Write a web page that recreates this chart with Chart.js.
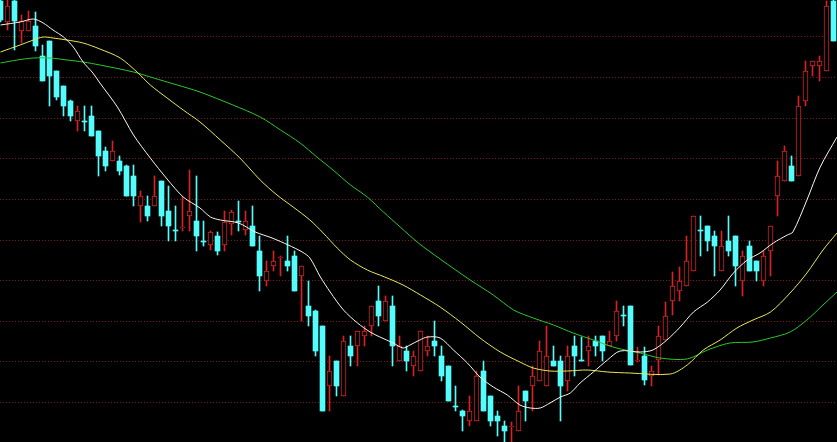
<!DOCTYPE html>
<html>
<head>
<meta charset="utf-8">
<script src="https://cdn.jsdelivr.net/npm/chart.js@4"></script>
<style>
  html, body { margin: 0; padding: 0; background: #000; overflow: hidden; }
  canvas { display: block; }
</style>
</head>
<body>
<canvas class="js-chart" width="837" height="442"></canvas>
<script>
const opens = [
  12.41, 12.20, 12.41, 12.11, 12.11, 12.16, 11.86, 12.01, 11.71, 11.56,
  11.41, 11.21, 11.21, 11.26, 11.11, 10.91, 10.81, 10.81, 10.76, 10.66,
  10.36, 10.36, 10.36, 10.61, 10.31, 10.12, 10.14, 10.26, 10.21, 10.01,
  9.97, 10.06, 9.97, 10.18, 10.21, 10.12, 10.16, 9.91, 9.61, 9.76,
  9.84, 9.81, 9.86, 9.66, 9.36, 9.31, 9.16, 8.56, 8.81, 8.46,
  8.96, 8.96, 9.06, 9.16, 9.41, 9.21, 9.36, 8.81, 8.91, 8.76,
  8.71, 8.91, 9.01, 8.86, 8.76, 8.36, 8.31, 8.21, 8.21, 8.71,
  8.46, 8.26, 8.16, 8.15, 8.11, 8.51, 8.56, 8.61, 8.56, 8.81,
  8.81, 8.61, 8.96, 8.82, 8.91, 9.01, 9.06, 8.96, 9.06, 9.27,
  9.36, 8.81, 8.86, 8.66, 8.82, 9.02, 9.41, 9.51, 9.56, 9.71,
  10.12, 10.16, 10.06, 9.71, 10.01, 10.06, 9.61, 9.96, 9.81, 9.61,
  9.91, 10.46, 10.61, 10.76, 10.66, 11.41, 11.76, 11.76, 11.71, 12.41
];
const highs = [
  12.42, 12.42, 12.42, 12.27, 12.31, 12.30, 11.97, 12.01, 11.71, 11.56,
  11.42, 11.36, 11.36, 11.36, 11.11, 10.95, 11.01, 10.86, 10.77, 10.77,
  10.51, 10.46, 10.66, 10.61, 10.56, 10.36, 10.45, 10.72, 10.66, 10.21,
  10.11, 10.10, 10.31, 10.32, 10.41, 10.31, 10.36, 10.06, 9.81, 9.91,
  9.86, 10.06, 9.91, 9.76, 9.61, 9.32, 9.16, 8.86, 8.81, 9.06,
  9.06, 9.11, 9.16, 9.36, 9.56, 9.46, 9.46, 9.06, 8.96, 8.91,
  9.11, 9.06, 9.21, 8.96, 8.76, 8.56, 8.32, 8.46, 8.71, 8.81,
  8.46, 8.31, 8.21, 8.20, 8.56, 8.51, 8.76, 9.01, 9.16, 8.96,
  8.86, 8.96, 9.06, 9.05, 9.06, 9.06, 9.06, 9.11, 9.41, 9.36,
  9.36, 8.95, 8.95, 8.76, 9.16, 9.40, 9.70, 9.75, 10.06, 10.26,
  10.26, 10.16, 10.11, 10.11, 10.26, 10.06, 9.91, 10.01, 9.81, 9.91,
  10.16, 10.81, 10.96, 10.86, 11.46, 11.81, 11.81, 11.86, 12.41, 12.42
];
const lows = [
  12.20, 12.12, 11.92, 11.99, 12.11, 11.91, 11.61, 11.36, 11.42, 11.26,
  11.21, 11.11, 11.11, 11.06, 10.66, 10.71, 10.81, 10.67, 10.46, 10.36,
  10.20, 10.21, 10.36, 10.16, 10.01, 10.01, 10.11, 10.11, 9.91, 9.96,
  9.92, 9.87, 9.91, 10.07, 10.11, 10.07, 9.96, 9.51, 9.56, 9.71,
  9.66, 9.71, 9.51, 9.21, 9.16, 8.86, 8.31, 8.31, 8.46, 8.46,
  8.76, 8.76, 8.96, 9.06, 9.16, 9.21, 8.76, 8.81, 8.71, 8.66,
  8.71, 8.86, 8.86, 8.61, 8.41, 8.31, 8.11, 8.16, 8.21, 8.31,
  8.16, 8.06, 8.00, 8.00, 8.11, 8.21, 8.31, 8.61, 8.56, 8.76,
  8.21, 8.51, 8.66, 8.81, 8.76, 8.86, 8.81, 8.96, 9.01, 9.16,
  8.77, 8.80, 8.57, 8.56, 8.67, 9.02, 9.27, 9.41, 9.56, 9.71,
  9.86, 9.91, 9.66, 9.71, 9.86, 9.56, 9.46, 9.71, 9.61, 9.56,
  9.66, 10.26, 10.61, 10.61, 10.66, 11.36, 11.66, 11.61, 11.71, 12.01
];
const closes = [
  12.22, 12.36, 12.21, 12.21, 12.21, 11.96, 11.61, 11.66, 11.45, 11.36,
  11.26, 11.31, 11.20, 11.06, 10.86, 10.76, 10.91, 10.71, 10.46, 10.46,
  10.46, 10.26, 10.46, 10.26, 10.16, 10.11, 10.15, 10.31, 10.06, 10.00,
  10.10, 9.91, 10.20, 10.30, 10.20, 10.21, 9.96, 9.66, 9.71, 9.81,
  9.85, 9.76, 9.51, 9.76, 9.26, 8.91, 8.31, 8.71, 8.56, 9.01,
  8.86, 9.11, 9.11, 9.36, 9.26, 9.41, 8.96, 8.96, 8.81, 8.86,
  9.11, 8.96, 8.96, 8.66, 8.41, 8.35, 8.26, 8.31, 8.66, 8.31,
  8.21, 8.21, 8.11, 8.16, 8.31, 8.41, 8.66, 8.91, 8.86, 8.76,
  8.56, 8.86, 8.86, 8.81, 8.96, 8.96, 8.91, 9.01, 9.31, 9.26,
  8.77, 8.82, 8.62, 8.71, 9.06, 9.26, 9.56, 9.61, 9.81, 10.26,
  10.11, 10.01, 9.96, 9.96, 9.91, 9.76, 9.86, 9.71, 9.71, 9.86,
  10.16, 10.66, 10.91, 10.61, 11.36, 11.71, 11.81, 11.81, 12.36, 12.01
];

// moving averages: [bar index, price]
const maShort = [
  [0, 12.17], [2.8, 12.20], [4.7, 12.23], [6.1, 12.19], [7.5, 12.12], [9, 12.05],
  [10.4, 11.95], [11.8, 11.80], [13.2, 11.69], [14.2, 11.59], [16.7, 11.35], [19, 11.07],
  [21.4, 10.84], [23.8, 10.63], [26.1, 10.45], [28.5, 10.34], [30, 10.25], [31.4, 10.22],
  [34, 10.19], [36.4, 10.10], [38.8, 10.04], [41.1, 9.97], [43.1, 9.90], [44.2, 9.84],
  [45.7, 9.65], [47.1, 9.50], [49, 9.32], [51, 9.19], [52.8, 9.10], [54.2, 9.05],
  [56.1, 8.99], [57.5, 8.94], [58.5, 8.97], [59.9, 9.02], [61, 9.05], [62.8, 9.04],
  [64.7, 8.92], [66.7, 8.79], [68.5, 8.65], [70.4, 8.55], [72.4, 8.47], [74.2, 8.37],
  [75.7, 8.34], [77.1, 8.34], [78.5, 8.39], [80, 8.45], [81.4, 8.49], [82.8, 8.59],
  [84.7, 8.70], [86.7, 8.82], [88.5, 8.91], [91.4, 8.90], [93.2, 8.92], [95.2, 9.02],
  [97.1, 9.15], [99, 9.30], [101, 9.40], [102.8, 9.52], [104.7, 9.69], [106.7, 9.82],
  [108.5, 9.89], [110.4, 9.99], [112.4, 10.07], [113.2, 10.10], [115.2, 10.42],
  [117.1, 10.75], [119.5, 11.05]
];
const maMid = [
  [0, 11.90], [2.8, 11.97], [4.7, 12.02], [6.1, 12.05], [7.5, 12.04], [9.5, 12.02],
  [11.8, 11.99], [14.2, 11.93], [17.1, 11.84], [19.5, 11.70], [21.4, 11.57], [23.8, 11.44],
  [26.1, 11.32], [28.5, 11.20], [31.4, 11.02], [34.2, 10.84], [37.1, 10.62], [39.5, 10.47],
  [41.8, 10.35], [44.2, 10.22], [46.1, 10.09], [48.1, 9.94], [50, 9.82], [52.4, 9.72],
  [54.9, 9.65], [57.5, 9.57], [60, 9.47], [62.8, 9.35], [65.7, 9.20], [68.5, 9.04],
  [71.4, 8.90], [74.2, 8.80], [76.1, 8.74], [78.5, 8.71], [81, 8.71], [83.8, 8.72],
  [86.7, 8.70], [89.9, 8.69], [95.7, 8.68], [98.1, 8.77], [100.4, 8.92], [102.8, 9.02],
  [105.2, 9.14], [107.5, 9.22], [110, 9.30], [112.8, 9.49], [115.2, 9.69], [117.5, 9.92],
  [119.5, 10.09]
];
const maLong = [
  [0, 11.79], [2.4, 11.82], [4.7, 11.84], [7.1, 11.84], [9.5, 11.82], [11.8, 11.80],
  [14.2, 11.77], [19, 11.70], [21.4, 11.65], [23.8, 11.60], [26.7, 11.54], [28.5, 11.50],
  [33.2, 11.37], [37.1, 11.25], [40, 11.12], [42.8, 10.99], [45.2, 10.85], [47.5, 10.72],
  [50, 10.57], [52.4, 10.45], [54.7, 10.30], [57.1, 10.15], [59.7, 9.99], [62.8, 9.83],
  [67.1, 9.62], [70.4, 9.47], [73.3, 9.32], [76.1, 9.24], [79, 9.17], [81.8, 9.09],
  [84.7, 9.02], [87.5, 8.95], [89.9, 8.91], [91.4, 8.89], [94.2, 8.84], [98.1, 8.83],
  [101, 8.92], [104.2, 8.99], [107.5, 9.00], [110, 9.04], [112.8, 9.10], [115.2, 9.22],
  [117.5, 9.37], [119.5, 9.50]
];

// price levels of the dotted grid
const gridPrices = [12.05, 11.644, 11.238, 10.832, 10.426, 10.02, 9.614, 9.208, 8.802, 8.396];

const UP_COLOR = '#d82222';
const DOWN_COLOR = '#54fcfc';

const ctx = document.querySelector('.js-chart').getContext('2d');

function isUp(i) {
  return closes[i] >= opens[i];
}

function candleColor(c) {
  return isUp(c.dataIndex) ? UP_COLOR : DOWN_COLOR;
}

function maLine(points, color) {
  return {
    type: 'line',
    data: points.map(([x, y]) => ({ x, y })),
    borderColor: color,
    borderWidth: 1,
    pointRadius: 0,
    tension: 0.3,
    fill: false,
  };
}

new Chart(ctx, {
  type: 'bar',
  data: {
    datasets: [
      maLine(maShort, '#f8f8ec'),
      maLine(maMid, '#e8e85a'),
      maLine(maLong, '#2cc82c'),
      {
        data: opens.map((o, i) => ({ x: i, y: [o, closes[i]] })),
        barThickness: 5,
        grouped: false,
        borderSkipped: false,
        borderWidth: c => isUp(c.dataIndex) ? 1 : 0,
        borderColor: candleColor,
        backgroundColor: c => isUp(c.dataIndex) ? '#000' : DOWN_COLOR,
      },
      {
        data: lows.map((l, i) => ({ x: i, y: [l, highs[i]] })),
        barThickness: 1,
        grouped: false,
        borderWidth: 0,
        backgroundColor: candleColor,
      },
    ]
  },
  options: {
    responsive: false,
    animation: false,
    layout: { padding: 0 },
    plugins: {
      legend: { display: false },
      tooltip: { enabled: false },
    },
    scales: {
      x: {
        type: 'linear',
        display: false,
        offset: false,
        min: -0.5 / 7,
        max: 119.5,
      },
      y: {
        min: 8.00,
        max: 12.42,
        afterBuildTicks(scale) {
          scale.ticks = gridPrices.map(value => ({ value }));
        },
        ticks: { display: false },
        grid: {
          color: '#7e1616',
          lineWidth: 1,
          drawTicks: false,
        },
        border: { display: false, dash: [1, 2] },
      }
    }
  }
});
</script>
</body>
</html>
